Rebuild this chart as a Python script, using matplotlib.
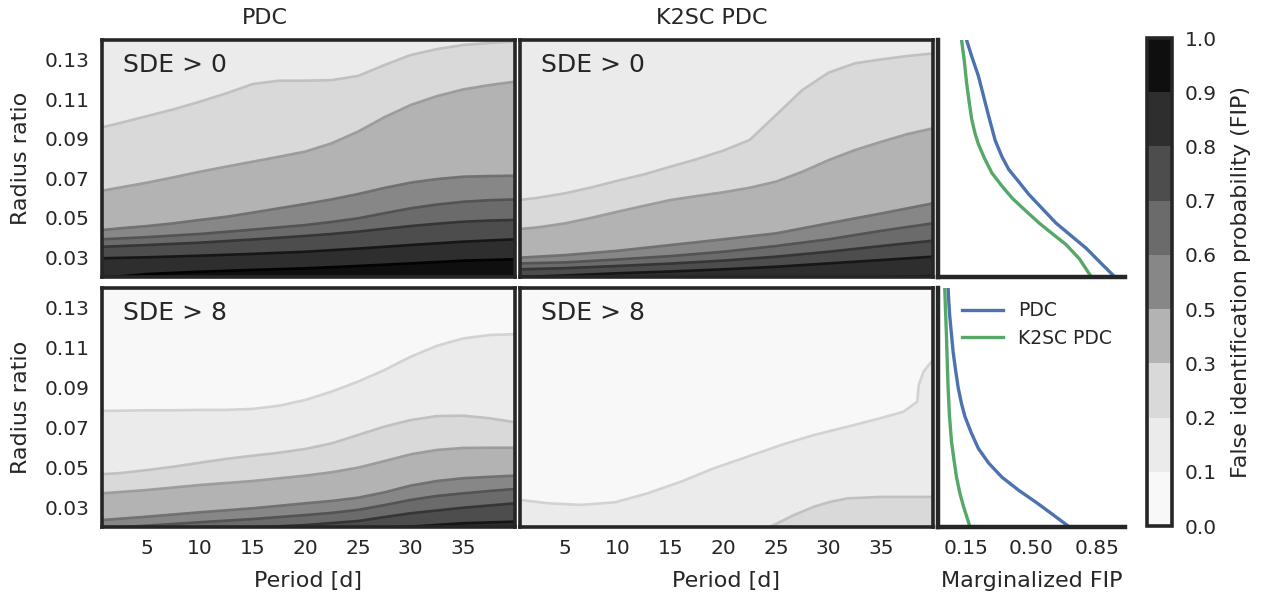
import numpy as np
import matplotlib
matplotlib.use("Agg")
import matplotlib.pyplot as plt
from matplotlib.colors import ListedColormap, BoundaryNorm
from matplotlib.cm import ScalarMappable

# ---------------- data ----------------
COLUMN_TITLES = ["PDC", "K2SC PDC"]
ROW_LABELS = ["SDE > 0", "SDE > 8"]
PERIOD_TICKS = [5, 10, 15, 20, 25, 30, 35]
RADIUS_TICKS = [0.03, 0.05, 0.07, 0.09, 0.11, 0.13]
RADIUS_TICK_LABELS = ["0.03", "0.05", "0.07", "0.09", "0.11", "0.13"]
FIP_LEVELS = np.linspace(0, 1, 10)
FIP_TICK_LABELS = ["0.0", "0.1", "0.2", "0.3", "0.5", "0.6", "0.7", "0.8", "0.9", "1.0"]
MARG_TICKS = [0.15, 0.50, 0.85]
MARG_TICK_LABELS = ["0.15", "0.50", "0.85"]

P_FINE = [0.7, 2.5, 5, 7.5, 10, 12.5, 15, 17.5, 20, 22.5, 25, 27.5, 30, 32.5, 35, 37.5, 39.9]
P_COARSE = [0.7, 5, 10, 15, 20, 25, 30, 35, 39.9]
P_MID = [0.7, 5, 10, 15, 20, 22.5, 25, 27.5, 30, 32.5, 35, 37.5, 39.9]

# Contour boundaries (period, radius ratio), ordered from low FIP (top) to high FIP (bottom)
pdc_sde0_top_bin = 1
pdc_sde0_bound_periods = [P_FINE, P_FINE, P_FINE, P_MID, P_MID, P_COARSE, P_COARSE]
pdc_sde0_bound_radii = [
    [0.0958, 0.0981, 0.1015, 0.1049, 0.1088, 0.1130, 0.1177, 0.1194, 0.1194, 0.1197,
     0.1218, 0.1273, 0.1324, 0.1354, 0.1375, 0.1385, 0.1392],
    [0.0637, 0.0654, 0.0678, 0.0705, 0.0733, 0.0759, 0.0784, 0.0809, 0.0835, 0.0877,
     0.0936, 0.1009, 0.1071, 0.1116, 0.1150, 0.1172, 0.1189],
    [0.0438, 0.0447, 0.0458, 0.0472, 0.0489, 0.0505, 0.0526, 0.0548, 0.0570, 0.0593,
     0.0620, 0.0651, 0.0678, 0.0696, 0.0708, 0.0711, 0.0713],
    [0.0391, 0.0402, 0.0418, 0.0440, 0.0463, 0.0479, 0.0497, 0.0523, 0.0548, 0.0567,
     0.0581, 0.0589, 0.0593],
    [0.0353, 0.0362, 0.0374, 0.0390, 0.0408, 0.0418, 0.0430, 0.0444, 0.0458, 0.0470,
     0.0480, 0.0486, 0.0489],
    [0.0295, 0.0300, 0.0308, 0.0317, 0.0328, 0.0344, 0.0362, 0.0379, 0.0391],
    [0.0195, 0.0215, 0.0227, 0.0236, 0.0244, 0.0256, 0.0269, 0.0283, 0.0290],
]

k2sc_sde0_top_bin = 1
k2sc_sde0_bound_periods = [P_FINE, P_FINE, P_COARSE, P_COARSE, P_COARSE, P_COARSE, P_COARSE]
k2sc_sde0_bound_radii = [
    [0.0590, 0.0602, 0.0624, 0.0654, 0.0688, 0.0720, 0.0759, 0.0797, 0.0840, 0.0894,
     0.1020, 0.1147, 0.1235, 0.1282, 0.1302, 0.1319, 0.1332],
    [0.0443, 0.0452, 0.0472, 0.0500, 0.0531, 0.0561, 0.0590, 0.0610, 0.0629, 0.0652,
     0.0683, 0.0733, 0.0792, 0.0843, 0.0885, 0.0924, 0.0953],
    [0.0298, 0.0311, 0.0333, 0.0362, 0.0391, 0.0421, 0.0472, 0.0522, 0.0573],
    [0.0269, 0.0274, 0.0289, 0.0306, 0.0328, 0.0357, 0.0391, 0.0434, 0.0472],
    [0.0239, 0.0245, 0.0256, 0.0268, 0.0283, 0.0303, 0.0328, 0.0357, 0.0384],
    [0.0200, 0.0208, 0.0219, 0.0228, 0.0239, 0.0252, 0.0269, 0.0286, 0.0303],
    [0.0150, 0.0155, 0.0160, 0.0165, 0.0170, 0.0180, 0.0190, 0.0198, 0.0205],
]

pdc_sde8_top_bin = 0
pdc_sde8_bound_periods = [P_FINE, P_FINE, P_MID, P_MID, P_MID,
                          [0.7, 10, 20, 25, 27.5, 30, 35, 39.9], P_COARSE]
pdc_sde8_bound_radii = [
    [0.0783, 0.0784, 0.0786, 0.0786, 0.0788, 0.0788, 0.0793, 0.0809, 0.0838, 0.0880,
     0.0930, 0.0988, 0.1055, 0.1110, 0.1147, 0.1164, 0.1168],
    [0.0465, 0.0471, 0.0486, 0.0503, 0.0523, 0.0542, 0.0558, 0.0573, 0.0592, 0.0620,
     0.0662, 0.0704, 0.0737, 0.0757, 0.0759, 0.0746, 0.0726],
    [0.0369, 0.0386, 0.0411, 0.0431, 0.0458, 0.0475, 0.0498, 0.0531, 0.0565, 0.0587,
     0.0597, 0.0598, 0.0598],
    [0.0235, 0.0252, 0.0274, 0.0294, 0.0319, 0.0331, 0.0347, 0.0374, 0.0408, 0.0431,
     0.0445, 0.0452, 0.0458],
    [0.0194, 0.0207, 0.0224, 0.0240, 0.0260, 0.0271, 0.0286, 0.0310, 0.0336, 0.0356,
     0.0369, 0.0381, 0.0391],
    [0.0169, 0.0185, 0.0210, 0.0230, 0.0250, 0.0269, 0.0297, 0.0319],
    [0.0120, 0.0130, 0.0145, 0.0160, 0.0180, 0.0190, 0.0202, 0.0219, 0.0227],
]

k2sc_sde8_top_bin = 0
k2sc_sde8_bound_periods = [
    [0.7, 3.4, 6.5, 9.7, 12.8, 16.0, 19.1, 22.3, 25.5, 28.6, 31.8, 34.9, 37.1,
     38.4, 38.55, 39.0, 39.9],
    [0.7, 20, 24.2, 24.8, 26.7, 28.6, 30.2, 31.8, 34.9, 39.9],
]
k2sc_sde8_bound_radii = [
    [0.0336, 0.0319, 0.0311, 0.0324, 0.0369, 0.0428, 0.0495, 0.0553, 0.0612, 0.0662,
     0.0704, 0.0746, 0.0779, 0.0829, 0.0913, 0.0980, 0.1040],
    [0.0050, 0.0120, 0.0195, 0.0210, 0.0260, 0.0302, 0.0327, 0.0344, 0.0351, 0.0351],
]

# Marginalized FIP curves (FIP value, radius ratio)
marg_sde0_pdc_fip = [0.153, 0.180, 0.216, 0.243, 0.270, 0.306, 0.342, 0.378, 0.432,
                     0.486, 0.559, 0.631, 0.712, 0.793, 0.865, 0.946]
marg_sde0_pdc_rad = [0.140, 0.1318, 0.1218, 0.1118, 0.1018, 0.0891, 0.0809, 0.0745,
                     0.0682, 0.0618, 0.0545, 0.0473, 0.0409, 0.0345, 0.0276, 0.020]
marg_sde0_k2sc_fip = [0.126, 0.141, 0.153, 0.166, 0.180, 0.198, 0.216, 0.249, 0.288,
                      0.339, 0.396, 0.468, 0.541, 0.613, 0.685, 0.757, 0.820]
marg_sde0_k2sc_rad = [0.140, 0.1291, 0.1182, 0.1091, 0.100, 0.0927, 0.0873, 0.0800,
                      0.0727, 0.0664, 0.060, 0.0536, 0.0473, 0.0418, 0.0364, 0.0291, 0.020]
marg_sde8_pdc_fip = [0.054, 0.058, 0.063, 0.072, 0.081, 0.094, 0.108, 0.126, 0.144,
                     0.177, 0.216, 0.270, 0.342, 0.432, 0.523, 0.613, 0.703]
marg_sde8_pdc_rad = [0.140, 0.1328, 0.1257, 0.1167, 0.1078, 0.0988, 0.0899, 0.0818,
                     0.0755, 0.0675, 0.0594, 0.0522, 0.0450, 0.0384, 0.0325, 0.0263, 0.020]
marg_sde8_k2sc_fip = [0.036, 0.040, 0.045, 0.049, 0.054, 0.061, 0.072, 0.085, 0.099,
                      0.117, 0.135, 0.153, 0.171]
marg_sde8_k2sc_rad = [0.140, 0.1293, 0.1167, 0.1042, 0.0899, 0.0764, 0.0630, 0.0540,
                      0.0450, 0.0370, 0.0307, 0.0254, 0.020]

# ---------------- style ----------------
BIN_COLORS = ["#f8f8f8", "#ebebeb", "#d9d9d9", "#b3b3b3", "#878787",
              "#6b6b6b", "#4d4d4d", "#2e2e2e", "#0f0f0f"]
TEXT_C = "#262626"
SPINE_W = 2.6
XLIM = (0.7, 39.9)
YLIM = (0.02, 0.14)
BLUE = "#4c72b0"
GREEN = "#55a868"

plt.rcParams["font.family"] = ["DejaVu Sans"]
plt.rcParams["text.color"] = TEXT_C
plt.rcParams["axes.labelcolor"] = TEXT_C
plt.rcParams["xtick.color"] = TEXT_C
plt.rcParams["ytick.color"] = TEXT_C

fig = plt.figure(figsize=(12.61, 5.98), dpi=100)
W, H = 1261.0, 598.0


def ax_at(x0, y0, x1, y1):
    return fig.add_axes([x0 / W, 1 - y1 / H, (x1 - x0) / W, (y1 - y0) / H])


def gray_of(hexc):
    return int(hexc[1:3], 16) / 255.0


def draw_panel(ax, bper, brad, top_bin, label):
    ax.set_facecolor(BIN_COLORS[top_bin])
    for k, (p, r) in enumerate(zip(bper, brad)):
        ax.fill_between(p, 0.0, r, color=BIN_COLORS[top_bin + k + 1], lw=0, zorder=1 + k * 0.01)
    for k, (p, r) in enumerate(zip(bper, brad)):
        darker = gray_of(BIN_COLORS[top_bin + k + 1])
        g = max(darker - 0.11, 0.0)
        ax.plot(p, r, color=(g, g, g), lw=1.9, alpha=0.9, zorder=2,
                solid_joinstyle="round")
    ax.set_xlim(*XLIM)
    ax.set_ylim(*YLIM)
    ax.text(0.05, 0.945, label, transform=ax.transAxes, fontsize=18,
            va="top", ha="left", color=TEXT_C, zorder=5)
    for s in ax.spines.values():
        s.set_linewidth(SPINE_W)
        s.set_color(TEXT_C)
        s.set_zorder(6)
    ax.set_xticks(PERIOD_TICKS)
    ax.set_yticks(RADIUS_TICKS)
    ax.tick_params(length=0, labelsize=14.5, pad=9)


rows_y = [(40, 277), (288, 527)]
cols_x = [(102, 515), (520, 933)]
marg_x = (938, 1125)

panels = [
    [(pdc_sde0_bound_periods, pdc_sde0_bound_radii, pdc_sde0_top_bin),
     (k2sc_sde0_bound_periods, k2sc_sde0_bound_radii, k2sc_sde0_top_bin)],
    [(pdc_sde8_bound_periods, pdc_sde8_bound_radii, pdc_sde8_top_bin),
     (k2sc_sde8_bound_periods, k2sc_sde8_bound_radii, k2sc_sde8_top_bin)],
]
margs = [
    (marg_sde0_pdc_fip, marg_sde0_pdc_rad, marg_sde0_k2sc_fip, marg_sde0_k2sc_rad),
    (marg_sde8_pdc_fip, marg_sde8_pdc_rad, marg_sde8_k2sc_fip, marg_sde8_k2sc_rad),
]

for r in range(2):
    y0, y1 = rows_y[r]
    for c in range(2):
        x0, x1 = cols_x[c]
        ax = ax_at(x0, y0, x1, y1)
        bp, br, tb = panels[r][c]
        draw_panel(ax, bp, br, tb, ROW_LABELS[r])
        if c == 0:
            ax.set_yticklabels(RADIUS_TICK_LABELS)
            ax.set_ylabel("Radius ratio", fontsize=16, labelpad=10)
        else:
            ax.set_yticklabels([])
        if r == 1:
            ax.set_xlabel("Period [d]", fontsize=16, labelpad=9)
        else:
            ax.set_xticklabels([])
    # marginal
    axm = ax_at(marg_x[0], y0, marg_x[1], y1)
    pf, pr, kf, kr = margs[r]
    axm.plot(pf, pr, color=BLUE, lw=2.4, label="PDC", solid_joinstyle="round")
    axm.plot(kf, kr, color=GREEN, lw=2.4, label="K2SC PDC", solid_joinstyle="round")
    axm.set_xlim(0, 1)
    axm.set_ylim(*YLIM)
    axm.spines["top"].set_visible(False)
    axm.spines["right"].set_visible(False)
    for s in ("left", "bottom"):
        axm.spines[s].set_linewidth(SPINE_W + 0.6)
        axm.spines[s].set_color(TEXT_C)
    axm.set_yticks([])
    axm.set_xticks(MARG_TICKS)
    axm.tick_params(length=0, labelsize=14.5, pad=9)
    if r == 1:
        axm.set_xticklabels(MARG_TICK_LABELS)
        axm.set_xlabel("Marginalized FIP", fontsize=16, labelpad=9)
        axm.legend(loc="upper right", frameon=False, fontsize=13.5,
                   handlelength=2.2, borderaxespad=0.3, labelspacing=0.45)
    else:
        axm.set_xticklabels([])

# column titles
fig.text(265 / W, 1 - 18 / H, COLUMN_TITLES[0], fontsize=16, ha="center", va="center")
fig.text(712 / W, 1 - 18 / H, COLUMN_TITLES[1], fontsize=16, ha="center", va="center")

# colorbar
cax = ax_at(1147, 38, 1172, 526)
cmap = ListedColormap(BIN_COLORS)
norm = BoundaryNorm(FIP_LEVELS, cmap.N)
sm = ScalarMappable(norm=norm, cmap=cmap)
cb = fig.colorbar(sm, cax=cax, ticks=FIP_LEVELS)
cb.ax.set_yticklabels(FIP_TICK_LABELS)
cb.ax.tick_params(length=0, labelsize=14.5, pad=9)
cb.outline.set_linewidth(SPINE_W)
cb.outline.set_edgecolor(TEXT_C)
cb.set_label("False identification probability (FIP)", fontsize=16, labelpad=10)

fig.savefig("out.png", dpi=100)
